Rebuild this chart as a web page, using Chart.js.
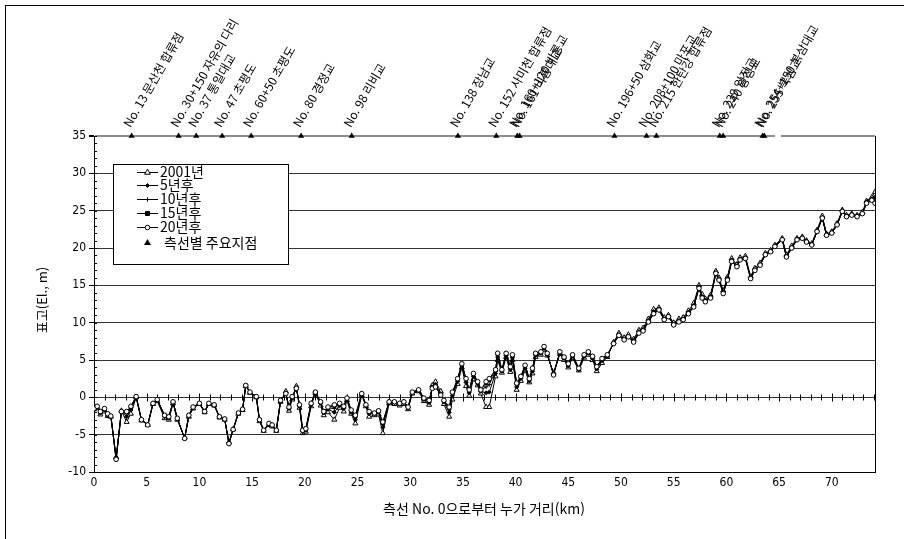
<!DOCTYPE html>
<html lang="ko">
<head>
<meta charset="utf-8">
<script src="https://cdn.jsdelivr.net/npm/chart.js@4.4.1/dist/chart.umd.min.js"></script>
<style>
html,body{margin:0;padding:0;background:#fff;}
canvas{display:block;}
</style>
</head>
<body>
<canvas id="c" width="904" height="539"></canvas>
<script>
// 측선 누가거리 (km)
const distKm = [
  0.0,0.3,0.6,1.0,1.3,1.6,2.1,2.6,3.1,3.5,
  4.0,4.5,5.1,5.6,6.0,6.7,7.1,7.5,7.9,8.6,
  9.0,9.4,10.0,10.5,10.9,11.4,11.9,12.4,12.8,13.2,
  13.7,14.1,14.4,14.8,15.4,15.7,16.1,16.6,16.9,17.3,
  17.7,18.2,18.5,18.8,19.2,19.5,19.8,20.1,20.6,21.0,
  21.5,21.8,22.2,22.8,23.3,23.7,24.0,24.4,24.8,25.4,
  25.8,26.1,26.6,27.0,27.4,28.0,28.5,29.0,29.4,29.8,
  30.2,30.8,31.3,31.8,32.1,32.4,32.9,33.2,33.7,34.0,
  34.5,34.9,35.3,35.6,36.0,36.4,36.7,37.2,37.5,38.1,
  38.3,38.7,39.1,39.5,39.7,40.1,40.5,40.9,41.3,41.6,
  41.9,42.4,42.7,43.0,43.6,44.2,44.6,45.0,45.4,46.0,
  46.5,46.9,47.3,47.7,48.2,48.7,49.3,49.8,50.3,50.7,
  51.2,51.7,52.1,52.6,53.1,53.6,54.1,54.5,55.0,55.5,
  55.9,56.4,56.9,57.4,57.7,58.0,58.5,59.0,59.3,59.7,
  60.1,60.5,61.0,61.3,61.8,62.3,62.7,63.2,63.7,64.2,
  64.6,65.3,65.7,66.2,66.7,67.2,67.6,68.1,68.6,69.1,
  69.5,70.0,70.5,71.0,71.4,71.9,72.4,72.9,73.3,73.8,
  74.1
];

// 하상고 (El., m)
const elev2001 = [
  -1.6,-1.4,-2.3,-1.9,-2.5,-2.6,-8.0,-1.8,-3.3,-2.2,
  0.0,-3.1,-3.7,-0.9,-0.5,-2.8,-3.0,-0.8,-3.0,-5.4,
  -2.6,-1.5,-0.9,-2.0,-0.9,-1.1,-2.7,-3.0,-6.0,-4.3,
  -2.2,-1.7,1.5,0.6,0.0,-3.2,-4.5,-3.7,-3.9,-4.5,
  -0.6,0.8,-1.8,-0.3,1.5,-1.4,-4.8,-4.6,-1.2,0.6,
  -1.1,-2.4,-2.0,-3.0,-1.4,-1.9,-0.4,-2.2,-3.5,0.3,
  -1.2,-2.6,-2.4,-2.3,-4.8,-0.8,-0.9,-1.1,-0.9,-1.6,
  0.5,0.8,-0.5,-1.0,1.6,2.1,0.8,-0.9,-2.6,-0.3,
  1.8,4.0,1.5,0.2,2.4,1.6,0.5,-1.3,-1.3,2.8,
  5.0,3.3,5.4,3.4,5.0,1.0,2.2,3.6,2.0,3.2,
  5.4,5.7,6.4,5.6,3.3,5.8,5.0,4.0,5.3,3.6,
  5.3,5.7,5.0,3.5,4.6,5.4,7.4,8.6,8.0,8.4,
  7.8,9.0,9.3,10.5,11.8,12.0,10.7,11.0,10.0,10.5,
  10.7,11.6,12.6,15.0,13.8,13.2,13.7,16.9,16.0,14.3,
  16.1,18.6,17.8,18.7,18.9,16.2,17.3,18.0,19.3,19.7,
  20.4,21.3,19.1,20.3,21.3,21.5,21.0,20.6,22.4,24.3,
  21.9,22.2,23.3,25.1,24.4,24.6,24.4,24.8,26.3,26.8,
  27.5
];

const elevAfter5 = [
  -1.6,-1.3,-2.1,-1.7,-2.4,-2.5,-8.2,-1.9,-2.6,-1.7,
  0.0,-3.0,-3.7,-0.8,-0.4,-2.6,-2.8,-0.7,-2.9,-5.5,
  -2.5,-1.4,-0.8,-1.9,-0.8,-1.0,-2.6,-2.9,-6.1,-4.3,
  -2.1,-1.6,1.5,0.7,0.1,-3.1,-4.4,-3.6,-3.8,-4.4,
  -0.5,0.6,-1.5,-0.1,1.3,-1.2,-4.6,-4.4,-1.0,0.7,
  -0.8,-2.1,-1.6,-2.0,-1.1,-1.5,-0.2,-2.0,-3.0,0.4,
  -1.1,-2.2,-2.2,-2.0,-4.0,-0.7,-0.7,-0.9,-0.7,-1.4,
  0.6,0.9,-0.3,-0.7,1.4,1.7,0.5,-0.6,-2.0,0.2,
  2.1,4.2,2.0,0.6,2.8,1.8,0.8,0.6,0.7,3.2,
  5.4,3.5,5.6,3.7,5.3,1.4,2.5,3.9,2.2,3.5,
  5.6,5.9,6.6,5.7,3.2,5.9,5.2,4.2,5.5,3.7,
  5.5,5.9,5.2,3.8,4.9,5.5,7.3,8.4,7.8,8.2,
  7.6,8.8,9.1,10.3,11.5,11.8,10.5,10.9,9.8,10.3,
  10.5,11.4,12.3,14.8,13.5,13.0,13.5,16.7,15.8,14.1,
  15.9,18.4,17.6,18.5,18.7,16.0,17.1,17.8,19.2,19.6,
  20.3,21.2,18.9,20.1,21.2,21.4,20.9,20.5,22.3,24.1,
  21.8,22.1,23.2,25.0,24.3,24.5,24.3,24.7,26.2,26.6,
  26.8
];

const elevAfter10 = [
  -1.5,-1.3,-2.0,-1.6,-2.3,-2.5,-8.3,-1.9,-2.2,-1.4,
  0.1,-3.0,-3.7,-0.8,-0.3,-2.5,-2.7,-0.6,-2.8,-5.5,
  -2.4,-1.3,-0.8,-1.9,-0.8,-1.0,-2.6,-2.9,-6.2,-4.3,
  -2.1,-1.6,1.6,0.7,0.1,-3.0,-4.4,-3.5,-3.7,-4.4,
  -0.4,0.5,-1.4,0.0,1.2,-1.1,-4.5,-4.3,-0.9,0.7,
  -0.7,-2.0,-1.4,-1.5,-0.9,-1.3,-0.1,-1.8,-2.7,0.5,
  -1.0,-2.0,-2.1,-1.9,-3.6,-0.6,-0.6,-0.8,-0.6,-1.3,
  0.7,1.0,-0.2,-0.5,1.3,1.5,0.4,-0.5,-1.6,0.5,
  2.3,4.4,2.3,0.8,3.0,2.0,0.9,1.4,1.7,3.5,
  5.7,3.6,5.8,3.9,5.5,1.7,2.7,4.1,2.4,3.7,
  5.8,6.0,6.7,5.8,3.1,6.0,5.3,4.4,5.6,3.8,
  5.6,6.0,5.4,4.0,5.1,5.6,7.2,8.3,7.7,8.1,
  7.5,8.7,9.0,10.2,11.3,11.7,10.4,10.8,9.7,10.2,
  10.4,11.3,12.2,14.7,13.4,12.9,13.4,16.6,15.7,14.0,
  15.8,18.3,17.5,18.4,18.6,15.9,17.0,17.7,19.1,19.5,
  20.2,21.1,18.8,20.0,21.1,21.3,20.8,20.4,22.2,24.0,
  21.7,22.0,23.1,24.9,24.2,24.4,24.2,24.6,26.1,26.5,
  26.4
];

const elevAfter15 = [
  -1.5,-1.2,-1.9,-1.5,-2.2,-2.5,-8.3,-1.9,-2.0,-1.3,
  0.1,-3.0,-3.7,-0.8,-0.3,-2.4,-2.6,-0.6,-2.8,-5.5,
  -2.4,-1.3,-0.8,-1.9,-0.8,-1.0,-2.6,-2.9,-6.2,-4.3,
  -2.1,-1.6,1.6,0.7,0.1,-3.0,-4.4,-3.5,-3.7,-4.4,
  -0.4,0.5,-1.3,0.1,1.2,-1.0,-4.4,-4.2,-0.8,0.7,
  -0.6,-1.9,-1.3,-1.2,-0.8,-1.2,-0.1,-1.7,-2.5,0.5,
  -1.0,-1.9,-2.1,-1.8,-3.4,-0.6,-0.6,-0.8,-0.6,-1.3,
  0.7,1.0,-0.1,-0.4,1.2,1.4,0.3,-0.4,-1.4,0.6,
  2.4,4.5,2.4,0.9,3.1,2.1,1.0,1.9,2.3,3.6,
  5.8,3.7,5.9,4.0,5.6,1.8,2.8,4.2,2.5,3.8,
  5.9,6.1,6.8,5.9,3.0,6.1,5.4,4.5,5.7,3.9,
  5.7,6.1,5.5,4.1,5.2,5.7,7.2,8.3,7.7,8.1,
  7.4,8.6,8.9,10.1,11.2,11.7,10.4,10.8,9.7,10.1,
  10.4,11.2,12.1,14.6,13.3,12.8,13.3,16.6,15.7,13.9,
  15.7,18.2,17.5,18.4,18.6,15.9,17.0,17.7,19.1,19.5,
  20.2,21.1,18.8,20.0,21.1,21.3,20.8,20.4,22.2,24.0,
  21.7,22.0,23.1,24.9,24.2,24.4,24.2,24.6,26.0,26.4,
  26.2
];

const elevAfter20 = [
  -1.5,-1.2,-1.9,-1.5,-2.2,-2.5,-8.3,-1.9,-1.9,-1.2,
  0.1,-3.0,-3.7,-0.8,-0.3,-2.4,-2.6,-0.6,-2.8,-5.5,
  -2.4,-1.3,-0.8,-1.9,-0.8,-1.0,-2.6,-2.9,-6.2,-4.3,
  -2.1,-1.6,1.6,0.7,0.1,-3.0,-4.4,-3.5,-3.7,-4.4,
  -0.4,0.5,-1.3,0.1,1.2,-1.0,-4.4,-4.2,-0.8,0.7,
  -0.6,-1.9,-1.3,-1.0,-0.8,-1.2,-0.1,-1.7,-2.4,0.5,
  -1.0,-1.9,-2.1,-1.8,-3.3,-0.6,-0.6,-0.8,-0.6,-1.3,
  0.7,1.0,-0.1,-0.4,1.2,1.4,0.3,-0.4,-1.3,0.7,
  2.5,4.5,2.5,1.0,3.2,2.1,1.0,2.1,2.5,3.7,
  5.9,3.7,5.9,4.1,5.7,1.9,2.8,4.3,2.5,3.9,
  5.9,6.1,6.8,5.9,3.0,6.1,5.4,4.5,5.7,3.9,
  5.7,6.1,5.5,4.1,5.2,5.7,7.2,8.3,7.7,8.1,
  7.4,8.6,8.9,10.1,11.2,11.7,10.4,10.8,9.7,10.1,
  10.4,11.2,12.1,14.6,13.3,12.8,13.3,16.6,15.7,13.9,
  15.7,18.2,17.5,18.4,18.6,15.9,17.0,17.7,19.1,19.5,
  20.2,21.1,18.8,20.0,21.1,21.3,20.8,20.4,22.2,24.0,
  21.7,22.0,23.1,24.9,24.2,24.4,24.2,24.6,26.0,26.4,
  26.0
];

const seriesNames = ['2001년', '5년후', '10년후', '15년후', '20년후'];

// 측선별 주요지점
const keyPointKm = [3.57, 8.03, 9.70, 12.16, 14.91, 19.65, 24.45, 34.53, 38.17, 40.16, 40.38,
                    49.38, 52.42, 53.36, 59.37, 59.69, 63.44, 63.60];
const keyPointLabels = [
  'No. 13 문산천 합류점', 'No. 30+150 자유의 다리', 'No. 37 통일대교', 'No. 47 초평도',
  'No. 60+50 초평도', 'No. 80 경정교', 'No. 98 리비교', 'No. 138 장남교',
  'No. 152 사미천 합류점', 'No. 160+120 비룡교', 'No. 161 비룡대교', 'No. 196+50 삼화교',
  'No. 208+100 마포교', 'No. 215 한탄강 합류점', 'No. 239 임진교', 'No. 240 왕징교',
  'No. 254+150 북삼대교', 'No. 255 북삼교'
];
const keyPointLevel = 35;
const keyPointName = '측선별 주요지점';

const xTickValues = [0, 5, 10, 15, 20, 25, 30, 35, 40, 45, 50, 55, 60, 65, 70];
const yTickValues = [-10, -5, 0, 5, 10, 15, 20, 25, 30, 35];

const xTitle = '측선 No. 0으로부터 누가 거리(km)';
const yTitle = '표고(El., m)';

const KR = '"Noto Sans CJK KR", "Noto Sans", sans-serif';
const NUM = '"Liberation Sans Narrow", "DejaVu Sans Condensed", "Liberation Sans", sans-serif';

const seriesStyles = [
  { pointStyle: 'triangle', radius: 2.9, fill: '#ffffff' },
  { pointStyle: 'rectRot',  radius: 2.0, fill: '#000000' },
  { pointStyle: 'cross',    radius: 2.2, fill: '#000000' },
  { pointStyle: 'rect',     radius: 2.0, fill: '#000000' },
  { pointStyle: 'circle',   radius: 2.3, fill: '#ffffff' }
];
const seriesValues = [elev2001, elevAfter5, elevAfter10, elevAfter15, elevAfter20];

const datasets = seriesValues.map((vals, s) => ({
  label: seriesNames[s],
  data: distKm.map((km, i) => ({ x: km, y: vals[i] })),
  borderColor: '#000',
  borderWidth: 1,
  backgroundColor: seriesStyles[s].fill,
  pointStyle: seriesStyles[s].pointStyle,
  pointRadius: seriesStyles[s].radius,
  pointBorderColor: '#000',
  pointBorderWidth: 1,
  pointBackgroundColor: seriesStyles[s].fill,
  tension: 0,
  order: 5 - s
}));

datasets.push({
  label: keyPointName,
  type: 'scatter',
  data: keyPointKm.map(km => ({ x: km, y: keyPointLevel })),
  showLine: false,
  pointStyle: 'triangle',
  pointRadius: 3.6,
  pointBorderWidth: 0,
  pointBackgroundColor: '#000',
  pointBorderColor: '#000',
  clip: false,
  order: 0
});

function drawMarker(ctx, style, x, y, r, fill) {
  ctx.save();
  ctx.lineWidth = 1;
  ctx.strokeStyle = '#000';
  ctx.fillStyle = fill;
  ctx.beginPath();
  if (style === 'triangle') {
    ctx.moveTo(x, y - r * 1.15);
    ctx.lineTo(x + r, y + r * 0.6);
    ctx.lineTo(x - r, y + r * 0.6);
    ctx.closePath(); ctx.fill(); ctx.stroke();
  } else if (style === 'rectRot') {
    ctx.moveTo(x, y - r); ctx.lineTo(x + r, y); ctx.lineTo(x, y + r); ctx.lineTo(x - r, y);
    ctx.closePath(); ctx.fill(); ctx.stroke();
  } else if (style === 'cross') {
    ctx.moveTo(x, y - r); ctx.lineTo(x, y + r); ctx.moveTo(x - r, y); ctx.lineTo(x + r, y);
    ctx.stroke();
  } else if (style === 'rect') {
    ctx.rect(x - r, y - r, 2 * r, 2 * r); ctx.fill(); ctx.stroke();
  } else {
    ctx.arc(x, y, r, 0, Math.PI * 2); ctx.fill(); ctx.stroke();
  }
  ctx.restore();
}

const decor = {
  id: 'decor',
  beforeDraw(chart) {
    const ctx = chart.ctx;
    ctx.save();
    ctx.fillStyle = '#fff';
    ctx.fillRect(0, 0, chart.width, chart.height);
    ctx.restore();
  },
  beforeDatasetsDraw(chart) {
    const ctx = chart.ctx, a = chart.chartArea;
    const xs = chart.scales.x, ys = chart.scales.y;
    ctx.save();
    ctx.strokeStyle = '#000';
    ctx.lineWidth = 1;
    // minor ticks on the elevation axis
    for (let v = -10; v <= 35; v++) {
      const py = Math.round(ys.getPixelForValue(v)) + 0.5;
      ctx.beginPath(); ctx.moveTo(a.left, py); ctx.lineTo(a.left + 3, py); ctx.stroke();
    }
    // distance ticks along the zero line
    const y0 = Math.round(ys.getPixelForValue(0)) + 0.5;
    for (let km = 1; km <= 74; km++) {
      const px = Math.round(xs.getPixelForValue(km)) + 0.5;
      const h = km % 5 === 0 ? 4 : 3;
      ctx.beginPath(); ctx.moveTo(px, y0 - h); ctx.lineTo(px, y0 + h); ctx.stroke();
    }
    // right border of the plot
    ctx.beginPath();
    ctx.moveTo(Math.round(a.right) + 0.5, a.top);
    ctx.lineTo(Math.round(a.right) + 0.5, a.bottom);
    ctx.stroke();
    // short break in the key-point line
    ctx.fillStyle = '#fff';
    ctx.fillRect(775, a.top - 2, 6, 5);
    ctx.restore();
  },
  afterDraw(chart) {
    const ctx = chart.ctx;
    const xs = chart.scales.x, ys = chart.scales.y;
    ctx.save();

    // outer frame
    ctx.strokeStyle = '#000';
    ctx.lineWidth = 1;
    ctx.strokeRect(5.5, 5.5, 910, 560);

    // key-point labels
    ctx.fillStyle = '#000';
    ctx.font = '12px ' + KR;
    ctx.textAlign = 'left';
    ctx.textBaseline = 'middle';
    const baseY = ys.getPixelForValue(keyPointLevel) - 10;
    keyPointKm.forEach((km, i) => {
      const px = xs.getPixelForValue(km) - 5;
      ctx.save();
      ctx.translate(px, baseY);
      ctx.rotate(-Math.PI / 3);
      ctx.fillText(keyPointLabels[i], 0, 0);
      ctx.restore();
    });

    // axis titles
    ctx.font = '14px ' + KR;
    ctx.textAlign = 'center';
    ctx.textBaseline = 'middle';
    ctx.fillText(xTitle, 484, 509);
    ctx.save();
    ctx.translate(42, 300);
    ctx.rotate(-Math.PI / 2);
    ctx.font = '13px ' + KR;
    ctx.fillText(yTitle, 0, 0);
    ctx.restore();

    // legend
    const bx = 113.5, by = 164.5, bw = 175, bh = 100;
    ctx.fillStyle = '#fff';
    ctx.fillRect(bx, by, bw, bh);
    ctx.strokeStyle = '#000';
    ctx.strokeRect(bx, by, bw, bh);
    const rows = [172, 185, 199, 213, 227];
    ctx.font = '14px ' + KR;
    ctx.textAlign = 'left';
    seriesNames.forEach((name, s) => {
      const ry = rows[s];
      ctx.strokeStyle = '#000';
      ctx.lineWidth = 1;
      ctx.beginPath(); ctx.moveTo(137, ry + 0.5); ctx.lineTo(158, ry + 0.5); ctx.stroke();
      drawMarker(ctx, seriesStyles[s].pointStyle, 147.5, ry + 0.5, seriesStyles[s].radius, seriesStyles[s].fill);
      ctx.fillStyle = '#000';
      ctx.fillText(name, 160, ry);
    });
    ctx.fillStyle = '#000';
    ctx.beginPath();
    ctx.moveTo(147.5, 239); ctx.lineTo(151, 245); ctx.lineTo(144, 245); ctx.closePath();
    ctx.fill();
    ctx.fillText(keyPointName, 164, 243);

    ctx.restore();
  }
};

new Chart(document.getElementById('c'), {
  type: 'line',
  data: { datasets },
  options: {
    responsive: false,
    animation: false,
    devicePixelRatio: 1,
    layout: { padding: { top: 136, right: 29, left: 0, bottom: 0 } },
    plugins: { legend: { display: false }, tooltip: { enabled: false } },
    scales: {
      x: {
        type: 'linear',
        min: 0,
        max: 74.1,
        afterFit(s) { s.height = 67; },
        afterBuildTicks(s) { s.ticks = xTickValues.map(v => ({ value: v })); },
        grid: { display: false, drawTicks: false },
        border: { display: true, color: '#000', width: 1 },
        ticks: { color: '#000', padding: 4, maxRotation: 0, autoSkip: false, font: { family: NUM, size: 12 } }
      },
      y: {
        min: -10,
        max: 35,
        afterFit(s) { s.width = 94; },
        afterBuildTicks(s) { s.ticks = yTickValues.map(v => ({ value: v })); },
        grid: {
          color: c => (c.tick && c.tick.value === keyPointLevel) ? '#8c8c8c' : '#333',
          lineWidth: c => (c.tick && c.tick.value === keyPointLevel) ? 2 : 1,
          drawTicks: true,
          tickLength: 5,
          tickColor: '#000'
        },
        border: { display: true, color: '#000', width: 1 },
        ticks: { color: '#000', padding: 3, font: { family: NUM, size: 12 } }
      }
    }
  },
  plugins: [decor]
});
</script>
</body>
</html>
